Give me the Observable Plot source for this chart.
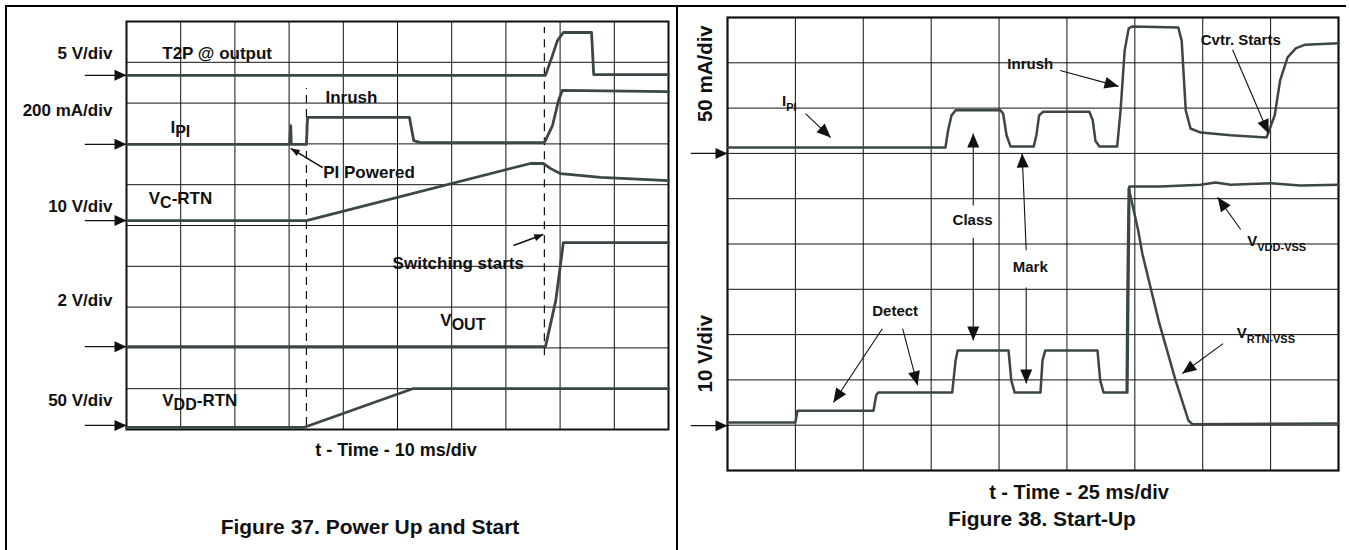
<!DOCTYPE html>
<html><head><meta charset="utf-8">
<script src="https://cdn.jsdelivr.net/npm/d3@7"></script>
<script src="https://cdn.jsdelivr.net/npm/@observablehq/plot@0.6"></script>
<style>
body{margin:0;background:#fff;}
#root{position:relative;width:1349px;height:550px;overflow:hidden;font-family:"Liberation Sans",Arial,Helvetica,sans-serif;font-weight:bold;color:#111}
.hl{position:absolute;background:#000}
.cap{position:absolute;white-space:nowrap;transform:translate(-50%,-50%)}
#left,#right{position:absolute;top:0}
</style></head>
<body><div id="root">
<div class="hl" style="left:5px;top:5px;width:1341px;height:2px"></div>
<div class="hl" style="left:5px;top:5px;width:2px;height:545px"></div>
<div class="hl" style="left:676px;top:5px;width:2px;height:545px"></div>
<div id="left" style="left:0"></div>
<div id="right" style="left:680px"></div>
<div class="cap" style="left:396px;top:450px;font-size:18px">t - Time - 10 ms/div</div>
<div class="cap" style="left:370px;top:527px;font-size:21px">Figure 37. Power Up and Start</div>
<div class="cap" style="left:1079px;top:492px;font-size:20px">t - Time - 25 ms/div</div>
<div class="cap" style="left:1042px;top:519px;font-size:21px">Figure 38. Start-Up</div>
</div>
<script>
// ---------- data (scope divisions) ----------
// Figure 37: x 0..10 div (10 ms/div), y 0..10 div
const leftGridX = [0,1,2,3,4,5,6,7,8,9,10];
const leftGridY = [0,1,2,3,4,5,6,7,8,9,10];
const t2pOut = [[0,8.68],[7.73,8.68],[7.86,9.17],[7.95,9.53],[8.06,9.73],[8.58,9.73],[8.62,8.70],[10,8.70]];
const ipiLeft = [[0,6.99],[3.01,6.99],[3.03,7.45],[3.04,6.99],[3.32,6.99],[3.34,7.65],[5.22,7.65],[5.30,7.08],[5.42,7.03],[7.71,7.03],[7.86,7.45],[7.97,8.06],[8.04,8.31],[10,8.28]];
const vcRtn = [[0,5.12],[3.32,5.12],[7.45,6.52],[7.69,6.52],[7.82,6.40],[8.01,6.27],[8.75,6.18],[10,6.10]];
const vOut = [[0,2.03],[7.73,2.03],[7.92,3.16],[8.06,4.58],[10,4.58]];
const vddRtn = [[0,0.05],[3.27,0.05],[5.28,1.00],[10,1.00]];
const leftZeros = [8.68, 6.99, 5.12, 2.03, 0.10];
const leftScaleText = ["5 V/div","200 mA/div","10 V/div","2 V/div","50 V/div"];
const leftScaleY = [9.22, 7.82, 5.47, 3.16, 0.71];
const leftNoteText = ["T2P @ output","I_{PI}","V_{C}-RTN","V_{DD}-RTN","Inrush","PI Powered","Switching starts","V_{OUT}"];
const leftNoteX = [0.66, 0.81, 0.41, 0.66, 3.67, 3.63, 4.91, 5.79];
const leftNoteY = [9.22, 7.40, 5.66, 0.71, 8.14, 6.30, 4.07, 2.67];
const leftPointers = [[3.62,6.42,3.03,6.89],[7.14,4.51,7.69,4.78]];
const leftDashes = [[3.32,0.10,8.36],[7.71,1.81,9.85]];

// Figure 38: x 0..9 div (25 ms/div), y 0..10 div
const rightGridX = [0,1,2,3,4,5,6,7,8,9];
const rightGridY = [0,1,2,3,4,5,6,7,8,9,10];
const ipiRight = [[0,7.13],[3.21,7.13],[3.25,7.51],[3.30,7.84],[3.36,7.95],[4.02,7.95],[4.06,7.88],[4.11,7.40],[4.17,7.15],[4.51,7.15],[4.55,7.40],[4.59,7.84],[4.65,7.92],[5.33,7.92],[5.38,7.73],[5.42,7.28],[5.48,7.15],[5.74,7.15],[5.79,7.95],[5.85,9.27],[5.91,9.76],[5.96,9.80],[6.64,9.78],[6.69,9.49],[6.75,7.95],[6.82,7.55],[6.97,7.46],[7.41,7.40],[7.94,7.35],[8.06,7.84],[8.14,8.61],[8.25,9.12],[8.37,9.32],[8.51,9.40],[9,9.43]];
const vrtnVss = [[0,1.06],[1.00,1.06],[1.03,1.32],[2.15,1.32],[2.19,1.66],[2.22,1.72],[3.31,1.72],[3.36,2.43],[3.39,2.65],[4.14,2.65],[4.18,1.99],[4.23,1.72],[4.61,1.72],[4.64,2.43],[4.68,2.65],[5.45,2.65],[5.49,1.99],[5.54,1.72],[5.88,1.72],[5.89,3.75],[5.91,6.23],[6.05,5.30],[6.11,4.79],[6.35,3.31],[6.60,1.99],[6.79,1.10],[6.85,1.02],[9,1.04]];
const vddVss = [[5.89,1.72],[5.92,6.27],[6.38,6.27],[6.97,6.31],[7.19,6.36],[7.41,6.31],[8.00,6.34],[8.44,6.29],[9,6.31]];
const rightZeros = [7.0, 0.99];
const rightScaleText = ["50 mA/div","10 V/div"];
const rightScaleY = [8.76, 2.58];
const rightNoteText = ["I_{PI}","Inrush","Cvtr. Starts","Class","Mark","Detect","V_{VDD-VSS}","V_{RTN-VSS}"];
const rightNoteX = [0.91, 4.46, 7.56, 3.61, 4.46, 2.47, 8.09, 7.93];
const rightNoteY = [8.15, 8.98, 9.49, 5.52, 4.48, 3.51, 5.06, 3.04];
const rightPointers = [[1.15,7.88,1.52,7.35],[4.90,8.83,5.76,8.48],[7.44,9.29,7.97,7.44],[3.62,5.85,3.62,7.44],[3.62,5.14,3.62,2.87],[4.40,4.86,4.34,7.00],[4.40,4.04,4.40,1.92],[2.28,3.13,1.56,1.50],[2.58,3.13,2.80,1.88],[7.56,5.32,7.22,6.03],[7.30,2.80,6.70,2.14]];

// ---------- helpers ----------
const NS = "http://www.w3.org/2000/svg";
const TRACE = "#3b4744";
const FONT = '"Liberation Sans", Arial, Helvetica, sans-serif';
const pts = (arr, name) => arr.map(([x, y]) => ({x, y, series: name}));
const links = arr => arr.map(([x1, y1, x2, y2]) => ({x1, y1, x2, y2}));

function head(len, wid) {
  return (color, context) => {
    const doc = (context && context.document) || document;
    const m = doc.createElementNS(NS, "marker");
    m.setAttribute("viewBox", `${-len} ${-wid / 2} ${len} ${wid}`);
    m.setAttribute("markerWidth", len);
    m.setAttribute("markerHeight", wid);
    m.setAttribute("markerUnits", "userSpaceOnUse");
    m.setAttribute("orient", "auto");
    m.setAttribute("refX", 0);
    m.setAttribute("refY", 0);
    m.setAttribute("overflow", "visible");
    const p = doc.createElementNS(NS, "path");
    p.setAttribute("d", `M${-len},${-wid / 2}L0,0L${-len},${wid / 2}Z`);
    p.setAttribute("fill", "#111");
    p.setAttribute("stroke", "none");
    m.appendChild(p);
    return m;
  };
}
let markerOK = true;
try { Plot.link([], {x1: 0, x2: 0, y1: 0, y2: 0, markerEnd: head(10, 8)}); } catch (e) { markerOK = false; }
const mEnd = (l, w) => (markerOK ? head(l, w) : "arrow");

// turn "V_{DD}-RTN" into tspans with a lowered, smaller subscript
function applySubs(svg, subSize, subDy) {
  svg.querySelectorAll("text").forEach(t => {
    const s = t.textContent;
    if (!s.includes("_{")) return;
    while (t.firstChild) t.removeChild(t.firstChild);
    const parts = s.split(/(_\{[^}]*\})/).filter(p => p.length);
    let shifted = false;
    parts.forEach(p => {
      const ts = document.createElementNS(NS, "tspan");
      if (p.startsWith("_{")) {
        ts.textContent = p.slice(2, -1);
        ts.setAttribute("dy", subDy);
        ts.setAttribute("font-size", subSize);
        shifted = true;
      } else {
        ts.textContent = p;
        if (shifted) { ts.setAttribute("dy", -subDy); shifted = false; }
      }
      t.appendChild(ts);
    });
  });
}
// white box behind each annotation, breaking the graticule like the scope labels
function addBoxes(svg, padX, padY) {
  svg.querySelectorAll('g[aria-label="note"] text').forEach(t => {
    const b = t.getBBox();
    const r = document.createElementNS(NS, "rect");
    r.setAttribute("x", b.x - padX);
    r.setAttribute("y", b.y - padY);
    r.setAttribute("width", b.width + 2 * padX);
    r.setAttribute("height", b.height + 2 * padY);
    r.setAttribute("fill", "white");
    r.setAttribute("stroke", "none");
    const tr = t.getAttribute("transform");
    if (tr) r.setAttribute("transform", tr);
    t.parentNode.insertBefore(r, t);
  });
}

// ---------- Figure 37 ----------
const leftTraces = [
  ...pts(t2pOut, "T2P"), ...pts(ipiLeft, "IPI"), ...pts(vcRtn, "VC"), ...pts(vOut, "VOUT"), ...pts(vddRtn, "VDD")
];
const leftNotes = leftNoteText.map((text, i) => ({text, x: leftNoteX[i], y: leftNoteY[i]}));
const leftScales = leftScaleText.map((text, i) => ({text, y: leftScaleY[i]}));

const left = Plot.plot({
  width: 680, height: 470,
  marginLeft: 126, marginTop: 21, marginRight: 12, marginBottom: 41,
  style: {fontFamily: FONT, background: "transparent"},
  x: {domain: [0, 10], axis: null},
  y: {domain: [0, 10], axis: null},
  marks: [
    Plot.ruleX(leftGridX, {stroke: "#111", strokeWidth: 1}),
    Plot.ruleY(leftGridY, {stroke: "#111", strokeWidth: 1}),
    Plot.frame({stroke: "#111", strokeWidth: 2}),
    Plot.text(leftNotes, {x: "x", y: "y", text: "text", textAnchor: "start", fontSize: 17, fontWeight: "bold",
      fill: "#111", ariaLabel: "note"}),
    Plot.text(leftScales, {x: -0.26, y: "y", text: "text", textAnchor: "end", fontSize: 17, fontWeight: "bold", fill: "#111"}),
    Plot.ruleX(leftDashes.map(([x, y1, y2]) => ({x, y1, y2})), {x: "x", y1: "y1", y2: "y2", stroke: "#111", strokeWidth: 1.2, strokeDasharray: "8,6"}),
    Plot.line(leftTraces, {x: "x", y: "y", z: "series", stroke: TRACE, strokeWidth: 2.8, strokeLinejoin: "round"}),
    Plot.link(leftZeros.map(y => ({y})), {x1: -0.77, x2: 0, y1: "y", y2: "y", stroke: "#111", strokeWidth: 1.2, markerEnd: mEnd(12, 11)}),
    Plot.link(links(leftPointers), {x1: "x1", y1: "y1", x2: "x2", y2: "y2", stroke: "#111", strokeWidth: 1.6, markerEnd: mEnd(9, 7)})
  ]
});
applySubs(left, 16, 4);
document.getElementById("left").appendChild(left);
addBoxes(left, 11, 7);

// ---------- Figure 38 ----------
const rightTraces = [...pts(ipiRight, "IPI"), ...pts(vrtnVss, "VRTN"), ...pts(vddVss, "VDD")];
const rightNotes = rightNoteText.map((text, i) => ({text, x: rightNoteX[i], y: rightNoteY[i]}));
const rightScales = rightScaleText.map((text, i) => ({text, y: rightScaleY[i]}));

const right = Plot.plot({
  width: 669, height: 500,
  marginLeft: 47, marginTop: 17, marginRight: 11, marginBottom: 30,
  style: {fontFamily: FONT, background: "transparent"},
  x: {domain: [0, 9], axis: null},
  y: {domain: [0, 10], axis: null},
  marks: [
    Plot.ruleX(rightGridX, {stroke: "#111", strokeWidth: 1}),
    Plot.ruleY(rightGridY, {stroke: "#111", strokeWidth: 1}),
    Plot.frame({stroke: "#111", strokeWidth: 2.2}),
    Plot.text(rightNotes, {x: "x", y: "y", text: "text", textAnchor: "middle", fontSize: 15, fontWeight: "bold",
      fill: "#111", ariaLabel: "note"}),
    Plot.text(rightScales, {x: -0.32, y: "y", text: "text", rotate: -90, fontSize: 20.5, fontWeight: "bold", fill: "#111"}),
    Plot.line(rightTraces, {x: "x", y: "y", z: "series", stroke: TRACE, strokeWidth: 2.5, strokeLinejoin: "round"}),
    Plot.link(rightZeros.map(y => ({y})), {x1: -0.54, x2: 0, y1: "y", y2: "y", stroke: "#111", strokeWidth: 1.2, markerEnd: mEnd(12, 11)}),
    Plot.link(links(rightPointers), {x1: "x1", y1: "y1", x2: "x2", y2: "y2", stroke: "#111", strokeWidth: 1.1, markerEnd: mEnd(14, 12)})
  ]
});
applySubs(right, 11, 5);
document.getElementById("right").appendChild(right);
addBoxes(right, 9, 5);
</script>
</body></html>
